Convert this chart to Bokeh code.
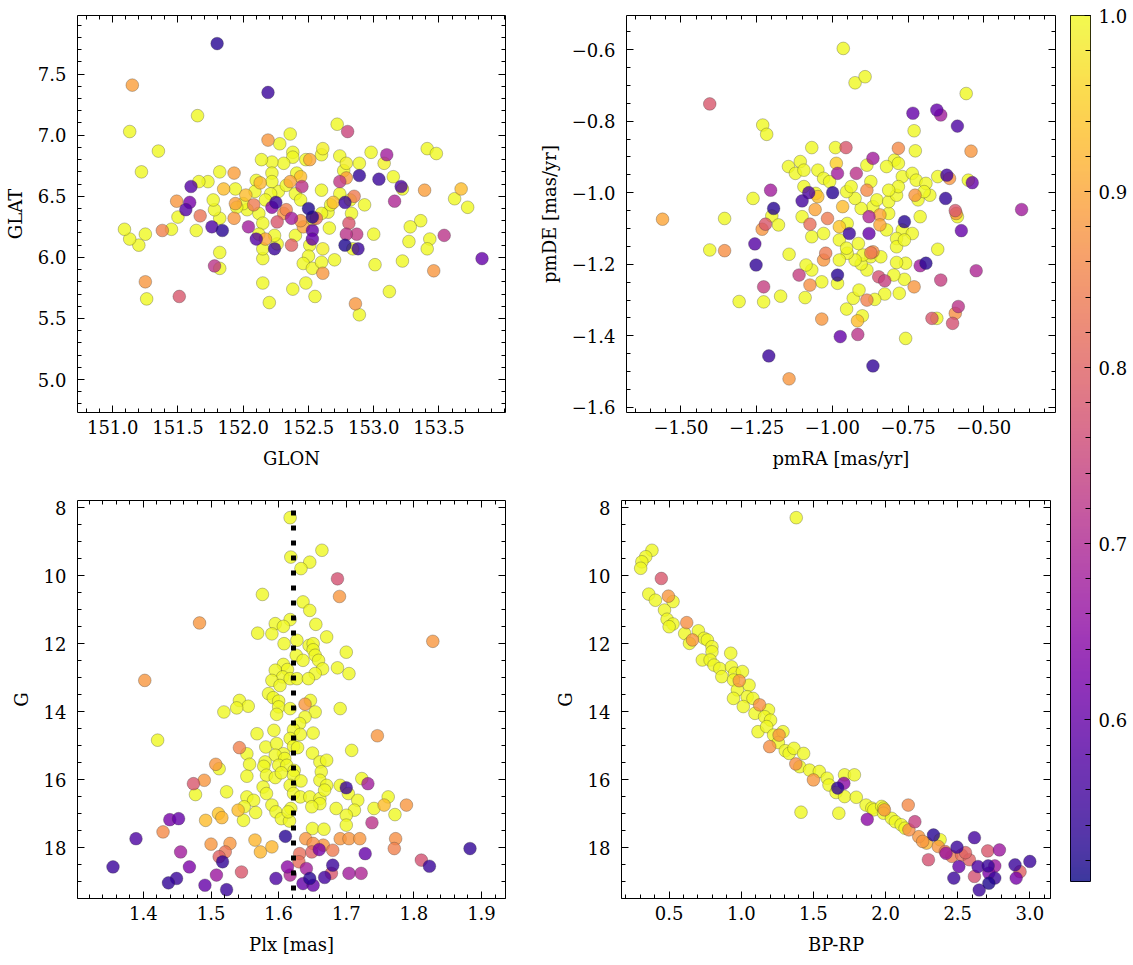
import numpy as np
from bokeh.plotting import figure
from bokeh.models import ColumnDataSource, Range1d, FixedTicker, LinearAxis, LinearColorMapper
from bokeh.layouts import row, column
from bokeh.palettes import Plasma256
from bokeh.embed import file_html
from bokeh.resources import INLINE

# ---------------- data: panel 1 (GLON / GLAT) ----------------
glon = [151.80, 151.15, 152.19, 151.65, 151.13, 152.72, 152.80, 151.35, 151.22, 152.19,
        152.36, 152.28, 152.38, 152.61, 152.60, 152.98, 152.74, 153.10, 153.08, 153.41,
        153.48, 153.15, 152.89, 152.79, 152.77, 152.89, 153.04, 153.21, 153.22, 153.39,
        153.67, 153.62, 153.72, 153.16, 153.36, 153.28, 153.27, 153.43, 153.41, 153.54,
        153.83, 153.46, 153.22, 153.12, 153.00, 153.01, 152.93, 152.85, 152.82, 152.78,
        152.74, 152.74, 152.79, 152.69, 152.83, 152.81, 152.79, 152.87, 152.78, 152.88,
        152.84, 152.70, 152.66, 152.86, 152.89, 152.65, 152.67, 152.60, 152.60, 152.56,
        152.53, 152.50, 152.53, 152.53, 152.53, 152.51, 152.50, 152.46, 152.53, 152.61,
        152.60, 152.61, 152.48, 152.38, 152.55, 152.15, 152.20, 152.15, 152.15, 152.17,
        152.24, 152.26, 152.24, 152.37, 152.40, 152.37, 152.44, 152.46, 152.33, 152.31,
        152.26, 152.22, 152.25, 152.27, 152.33, 152.40, 152.44, 152.45, 152.36, 152.44,
        152.41, 152.51, 152.48, 152.38, 152.31, 152.22, 152.14, 152.22, 152.22, 152.21,
        152.17, 152.13, 152.10, 152.09, 152.08, 152.03, 152.12, 152.15, 152.12, 152.10,
        152.04, 152.02, 152.00, 151.94, 151.93, 151.94, 151.93, 151.95, 151.85, 151.82,
        151.82, 151.84, 151.76, 151.78, 151.77, 151.73, 151.66, 151.67, 151.64, 151.59,
        151.60, 151.56, 151.49, 151.50, 151.45, 151.38, 151.25, 151.20, 151.13, 151.09,
        151.25, 151.26, 151.51, 151.78, 151.82, 151.82]
glat = [7.75, 7.41, 7.35, 7.16, 7.03, 7.09, 7.03, 6.87, 6.70, 6.96,
        7.01, 6.93, 6.86, 6.89, 6.84, 6.86, 6.83, 6.84, 6.77, 6.89,
        6.85, 6.66, 6.77, 6.77, 6.71, 6.67, 6.64, 6.58, 6.56, 6.55,
        6.56, 6.48, 6.41, 6.46, 6.30, 6.25, 6.13, 6.15, 6.07, 6.18,
        5.99, 5.89, 5.97, 5.72, 6.19, 5.94, 6.43, 6.50, 6.47, 6.45,
        6.52, 6.62, 6.65, 6.45, 6.36, 6.28, 6.19, 6.19, 6.10, 6.07,
        6.07, 5.98, 6.24, 5.62, 5.53, 6.37, 6.43, 6.55, 6.36, 6.32,
        6.31, 6.40, 6.33, 6.22, 6.15, 6.10, 6.01, 5.95, 5.91, 5.87,
        5.96, 6.07, 5.79, 5.74, 5.68, 5.79, 5.63, 5.99, 6.07, 6.15,
        6.07, 6.11, 6.18, 6.10, 6.18, 6.32, 6.30, 6.25, 6.39, 6.36,
        6.29, 6.41, 6.45, 6.54, 6.59, 6.52, 6.47, 6.58, 6.62, 6.66,
        6.69, 6.80, 6.80, 6.82, 6.77, 6.78, 6.80, 6.69, 6.62, 6.52,
        6.47, 6.61, 6.63, 6.54, 6.43, 6.39, 6.36, 6.28, 6.19, 6.15,
        6.25, 6.51, 6.44, 6.56, 6.69, 6.44, 6.32, 6.41, 6.56, 6.70,
        6.32, 6.22, 6.25, 6.39, 6.47, 6.62, 6.62, 6.34, 6.22, 6.45,
        6.58, 6.39, 6.46, 6.33, 6.23, 6.22, 6.19, 6.10, 6.15, 6.23,
        5.80, 5.66, 5.68, 5.93, 5.91, 6.04]
prob1 = [0.53, 0.89, 0.55, 1.00, 1.00, 1.00, 0.75, 1.00, 1.00, 0.88,
         1.00, 1.00, 1.00, 0.99, 1.00, 1.00, 1.00, 0.68, 0.99, 1.00,
         1.00, 1.00, 1.00, 0.99, 1.00, 0.54, 0.55, 0.57, 1.00, 0.89,
         0.93, 1.00, 1.00, 0.70, 1.00, 1.00, 1.00, 1.00, 1.00, 0.72,
         0.60, 0.88, 1.00, 1.00, 1.00, 1.00, 1.00, 0.84, 1.00, 0.55,
         1.00, 0.73, 0.89, 0.93, 1.00, 0.78, 0.72, 0.73, 0.52, 0.55,
         1.00, 1.00, 1.00, 0.88, 1.00, 1.00, 1.00, 1.00, 1.00, 0.82,
         1.00, 0.52, 0.53, 0.60, 0.60, 1.00, 1.00, 1.00, 1.00, 0.88,
         1.00, 0.99, 1.00, 1.00, 1.00, 1.00, 1.00, 1.00, 1.00, 0.90,
         0.55, 1.00, 1.00, 0.80, 1.00, 0.68, 0.88, 0.90, 0.85, 0.88,
         0.78, 0.65, 0.55, 1.00, 1.00, 1.00, 1.00, 0.72, 0.90, 0.93,
         1.00, 0.90, 1.00, 1.00, 1.00, 1.00, 1.00, 1.00, 1.00, 1.00,
         1.00, 0.92, 1.00, 1.00, 0.84, 1.00, 1.00, 1.00, 1.00, 0.58,
         0.68, 0.93, 1.00, 1.00, 0.89, 0.89, 0.88, 1.00, 0.93, 1.00,
         1.00, 0.53, 0.57, 1.00, 1.00, 1.00, 1.00, 0.83, 1.00, 0.62,
         0.58, 0.58, 0.88, 1.00, 1.00, 0.85, 1.00, 1.00, 1.00, 1.00,
         0.88, 1.00, 0.78, 0.72, 1.00, 1.00]

# ---------------- data: panel 2 (pmRA / pmDE) ----------------
pmra = [-0.964, -0.925, -0.892, -0.558, -1.405, -1.230, -1.217, -0.734, -0.655, -0.642,
        -0.587, -0.730, -1.068, -0.990, -0.955, -0.782, -0.726, -0.542, -0.866, -0.795,
        -1.145, -1.106, -1.048, -1.122, -1.094, -0.987, -0.983, -0.921, -0.886, -0.821,
        -0.782, -0.769, -0.736, -0.723, -0.691, -0.652, -0.622, -0.613, -0.551, -0.538,
        -0.626, -0.678, -0.727, -0.375, -0.594, -0.587, -0.591, -0.574, -0.762, -0.769,
        -0.788, -0.652, -0.525, -0.691, -0.710, -0.642, -0.730, -0.758, -0.788, -0.762,
        -0.797, -0.827, -0.779, -0.584, -0.594, -0.655, -0.671, -0.603, -0.758, -0.916,
        -0.974, -0.917, -0.901, -0.866, -1.210, -1.143, -1.035, -0.953, -0.931, -0.912,
        -0.886, -0.860, -0.827, -0.847, -0.886, -0.905, -0.873, -0.840, -0.866, -0.899,
        -0.925, -0.951, -0.977, -0.983, -0.983, -1.035, -1.068, -1.087, -1.074, -1.110,
        -1.090, -1.171, -1.227, -1.308, -1.227, -1.252, -1.256, -1.143, -1.356, -1.405,
        -1.561, -1.356, -1.262, -1.204, -1.194, -1.200, -1.178, -1.232, -1.221, -1.100,
        -1.078, -0.999, -1.094, -1.100, -1.055, -1.048, -1.057, -1.074, -1.068, -1.016,
        -1.029, -0.966, -0.977, -0.951, -0.944, -0.977, -0.953, -0.914, -0.879, -0.879,
        -0.843, -0.843, -0.814, -0.821, -0.866, -0.905, -0.925, -0.886, -0.873, -0.853,
        -0.814, -0.788, -0.782, -0.814, -0.953, -0.938, -1.029, -1.009, -1.022, -1.029,
        -0.873, -0.788, -0.736, -0.762, -0.710, -0.717, -0.697]
pmde = [-0.597, -0.693, -0.676, -0.723, -0.752, -0.811, -0.837, -0.778, -0.769, -0.783,
        -0.814, -0.827, -0.874, -0.874, -0.874, -0.876, -0.883, -0.884, -0.904, -0.909,
        -0.927, -0.913, -0.937, -0.946, -0.937, -0.918, -0.946, -0.946, -0.923, -0.927,
        -0.918, -0.955, -0.946, -0.965, -0.974, -0.955, -0.951, -0.960, -0.965, -0.972,
        -1.016, -1.007, -1.007, -1.047, -1.050, -1.067, -1.058, -1.106, -1.081, -1.104,
        -1.128, -1.158, -1.218, -1.197, -1.204, -1.244, -1.263, -1.197, -1.195, -1.242,
        -1.230, -1.283, -1.281, -1.318, -1.337, -1.351, -1.351, -1.365, -1.407, -1.396,
        -1.402, -1.358, -1.344, -1.484, -1.456, -1.520, -1.353, -1.325, -1.295, -1.272,
        -1.300, -1.298, -1.246, -1.235, -1.216, -1.199, -1.179, -1.179, -1.165, -1.174,
        -1.188, -1.169, -1.188, -1.230, -1.253, -1.249, -1.216, -1.202, -1.258, -1.230,
        -1.293, -1.289, -1.305, -1.304, -1.263, -1.202, -1.143, -1.172, -1.162, -1.160,
        -1.074, -1.072, -1.016, -0.993, -1.044, -1.065, -1.090, -1.102, -1.088, -1.023,
        -1.000, -1.000, -0.983, -1.067, -1.002, -1.011, -1.047, -1.088, -1.123, -1.072,
        -1.114, -1.039, -1.095, -1.086, -1.114, -1.132, -1.155, -1.142, -1.114, -1.067,
        -1.062, -1.090, -1.058, -1.104, -1.039, -1.044, -1.016, -0.993, -0.969, -1.020,
        -1.025, -1.007, -0.983, -0.993, -0.997, -0.983, -0.960, -0.969, -1.169, -1.188,
        -1.168, -1.151, -1.114, -1.132, -1.067, -1.020, -0.997]
prob2 = [1.00, 1.00, 1.00, 1.00, 0.78, 1.00, 1.00, 0.60, 0.60, 0.68,
         0.57, 1.00, 1.00, 1.00, 0.78, 0.86, 1.00, 0.88, 0.68, 1.00,
         1.00, 1.00, 1.00, 1.00, 1.00, 0.95, 0.68, 0.72, 1.00, 1.00,
         1.00, 1.00, 1.00, 1.00, 1.00, 1.00, 0.56, 0.88, 1.00, 0.60,
         0.54, 1.00, 0.88, 0.68, 0.78, 1.00, 0.88, 0.60, 0.53, 1.00,
         1.00, 1.00, 0.70, 0.53, 0.68, 0.74, 0.88, 1.00, 1.00, 1.00,
         1.00, 1.00, 1.00, 0.72, 0.87, 1.00, 0.78, 0.77, 1.00, 0.72,
         0.60, 0.93, 1.00, 0.54, 0.55, 0.88, 0.88, 1.00, 1.00, 1.00,
         0.85, 1.00, 0.74, 0.77, 1.00, 1.00, 1.00, 1.00, 0.87, 1.00,
         1.00, 1.00, 1.00, 0.53, 1.00, 1.00, 1.00, 1.00, 0.87, 0.74,
         1.00, 1.00, 1.00, 1.00, 0.74, 0.54, 0.58, 1.00, 0.87, 1.00,
         0.90, 1.00, 1.00, 0.68, 0.53, 1.00, 1.00, 0.88, 0.78, 0.56,
         0.57, 0.53, 1.00, 1.00, 1.00, 0.93, 0.90, 0.82, 1.00, 0.84,
         1.00, 0.93, 0.94, 1.00, 0.55, 1.00, 1.00, 1.00, 0.60, 0.70,
         0.90, 0.90, 1.00, 1.00, 1.00, 1.00, 1.00, 0.86, 1.00, 1.00,
         1.00, 1.00, 1.00, 1.00, 1.00, 1.00, 1.00, 1.00, 0.84, 0.88,
         0.84, 1.00, 1.00, 1.00, 1.00, 1.00, 1.00]

# ---------------- data: panel 3 (Plx / G) ----------------
plx = [1.617, 1.618, 1.664, 1.646, 1.633, 1.687, 1.690, 1.576, 1.636, 1.646,
       1.483, 1.655, 1.617, 1.595, 1.607, 1.569, 1.590, 1.671, 1.828, 1.608,
       1.627, 1.645, 1.651, 1.651, 1.626, 1.654, 1.700, 1.636, 1.659, 1.665,
       1.654, 1.687, 1.704, 1.607, 1.613, 1.595, 1.606, 1.590, 1.602, 1.617,
       1.627, 1.402, 1.644, 1.585, 1.592, 1.600, 1.600, 1.617, 1.647, 1.639,
       1.654, 1.691, 1.542, 1.555, 1.538, 1.519, 1.597, 1.639, 1.631, 1.622,
       1.632, 1.651, 1.568, 1.593, 1.421, 1.746, 1.617, 1.622, 1.628, 1.542,
       1.553, 1.581, 1.597, 1.607, 1.595, 1.609, 1.650, 1.708, 1.557, 1.580,
       1.600, 1.612, 1.623, 1.661, 1.671, 1.507, 1.512, 1.578, 1.553, 1.582,
       1.595, 1.604, 1.622, 1.633, 1.663, 1.661, 1.723, 1.490, 1.474, 1.477,
       1.732, 1.700, 1.691, 1.671, 1.577, 1.582, 1.617, 1.622, 1.632, 1.646,
       1.661, 1.668, 1.523, 1.553, 1.563, 1.703, 1.717, 1.762, 1.789, 1.756,
       1.741, 1.772, 1.712, 1.700, 1.685, 1.661, 1.649, 1.618, 1.590, 1.596,
       1.604, 1.616, 1.614, 1.566, 1.540, 1.549, 1.511, 1.516, 1.492, 1.548,
       1.700, 1.650, 1.667, 1.738, 1.439, 1.452, 1.429, 1.389, 1.500, 1.528,
       1.521, 1.512, 1.455, 1.565, 1.573, 1.590, 1.610, 1.640, 1.651, 1.666,
       1.649, 1.660, 1.680, 1.631, 1.691, 1.704, 1.720, 1.773, 1.771, 1.728,
       1.883, 1.811, 1.823, 1.355, 1.468, 1.517, 1.508, 1.545, 1.491, 1.449,
       1.437, 1.523, 1.596, 1.613, 1.617, 1.641, 1.646, 1.636, 1.651, 1.668,
       1.680, 1.678, 1.704, 1.722, 1.630]
g3 = [8.29, 9.45, 9.25, 9.60, 9.79, 10.09, 10.61, 10.55, 10.77, 11.02,
      11.39, 11.43, 11.29, 11.41, 11.49, 11.69, 11.71, 11.80, 11.93, 12.00,
      11.90, 12.05, 12.00, 12.18, 12.34, 12.34, 12.25, 12.49, 12.49, 12.74,
      12.88, 12.71, 12.88, 12.61, 12.76, 12.78, 12.98, 13.08, 13.23, 13.03,
      13.03, 13.08, 13.03, 13.47, 13.59, 13.69, 13.86, 13.91, 13.67, 13.78,
      14.01, 13.91, 13.67, 13.84, 13.89, 14.01, 14.08, 14.16, 14.35, 14.53,
      14.67, 14.63, 14.65, 14.55, 14.84, 14.71, 14.79, 15.02, 15.06, 15.06,
      15.24, 15.04, 14.94, 15.24, 15.28, 15.38, 15.22, 15.14, 15.55, 15.48,
      15.58, 15.58, 15.73, 15.48, 15.43, 15.55, 15.68, 15.61, 15.90, 15.87,
      15.94, 15.80, 15.87, 16.04, 15.77, 16.02, 15.97, 16.02, 16.12, 16.44,
      16.12, 16.24, 16.17, 16.17, 16.22, 16.41, 16.17, 16.41, 16.51, 16.51,
      16.56, 16.31, 16.36, 16.51, 16.61, 16.41, 16.61, 16.51, 16.75, 16.75,
      16.85, 17.03, 16.90, 17.05, 16.85, 16.71, 16.80, 16.85, 16.75, 16.95,
      17.15, 17.22, 16.95, 16.97, 16.90, 16.80, 17.00, 17.12, 17.20, 17.20,
      17.34, 17.44, 17.46, 17.27, 17.18, 17.15, 17.54, 17.74, 17.90, 17.88,
      18.13, 18.27, 18.13, 17.78, 18.13, 17.98, 17.67, 17.74, 17.88, 17.93,
      18.13, 18.06, 18.08, 18.18, 17.74, 17.74, 17.74, 17.74, 18.03, 18.18,
      18.03, 18.37, 18.55, 18.57, 18.57, 18.42, 18.81, 18.72, 19.11, 18.91,
      19.04, 19.24, 18.91, 18.57, 18.81, 18.62, 18.91, 19.06, 19.11, 18.88,
      18.52, 18.76, 18.76, 18.76, 18.42]
prob3 = [1.00, 1.00, 1.00, 1.00, 1.00, 0.77, 0.88, 1.00, 1.00, 1.00,
         0.88, 1.00, 1.00, 1.00, 1.00, 1.00, 1.00, 1.00, 0.88, 1.00,
         1.00, 1.00, 1.00, 1.00, 1.00, 1.00, 1.00, 1.00, 1.00, 1.00,
         1.00, 1.00, 1.00, 1.00, 1.00, 1.00, 1.00, 1.00, 1.00, 1.00,
         1.00, 0.88, 1.00, 1.00, 1.00, 1.00, 1.00, 1.00, 1.00, 0.88,
         1.00, 1.00, 1.00, 1.00, 1.00, 1.00, 1.00, 1.00, 1.00, 1.00,
         1.00, 1.00, 1.00, 1.00, 1.00, 0.88, 1.00, 1.00, 1.00, 0.85,
         1.00, 1.00, 1.00, 1.00, 1.00, 1.00, 1.00, 1.00, 1.00, 1.00,
         1.00, 1.00, 1.00, 1.00, 1.00, 0.88, 1.00, 1.00, 1.00, 1.00,
         1.00, 1.00, 1.00, 1.00, 1.00, 1.00, 1.00, 0.88, 0.78, 1.00,
         0.68, 0.55, 1.00, 1.00, 1.00, 1.00, 1.00, 1.00, 1.00, 1.00,
         1.00, 1.00, 1.00, 1.00, 1.00, 1.00, 1.00, 1.00, 0.88, 0.93,
         1.00, 1.00, 1.00, 1.00, 1.00, 1.00, 1.00, 1.00, 1.00, 1.00,
         1.00, 1.00, 1.00, 1.00, 0.93, 1.00, 0.94, 0.92, 0.93, 1.00,
         1.00, 1.00, 1.00, 0.72, 0.62, 0.60, 0.86, 0.57, 0.88, 0.88,
         0.83, 0.80, 0.68, 0.92, 0.92, 0.92, 0.53, 0.88, 0.87, 0.88,
         0.80, 0.62, 0.84, 0.82, 0.88, 0.88, 0.88, 0.87, 0.85, 0.60,
         0.54, 0.77, 0.55, 0.55, 0.63, 0.54, 0.67, 0.78, 0.60, 0.55,
         0.54, 0.55, 0.57, 0.65, 0.70, 0.68, 0.53, 0.60, 0.60, 0.56,
         0.55, 0.78, 0.68, 0.70, 0.82]
plx_ref = 1.622
ref_g = [8.08, 19.6]

# ---------------- data: panel 4 (BP-RP / G) ----------------
bprp = [1.381, 0.381, 0.338, 0.311, 0.303, 0.446, 0.359, 0.405, 0.495, 0.527,
        0.468, 0.486, 0.527, 0.500, 0.622, 0.608, 0.703, 0.662, 0.641, 0.743,
        0.765, 0.797, 0.797, 0.730, 0.784, 0.811, 0.851, 0.865, 0.927, 0.932,
        0.954, 1.008, 0.986, 1.054, 0.946, 0.973, 0.946, 1.041, 1.081, 1.014,
        1.127, 1.189, 1.095, 1.162, 1.203, 1.116, 1.176, 1.224, 1.262, 1.289,
        1.197, 1.257, 1.305, 1.332, 1.365, 1.432, 1.378, 1.405, 1.473, 1.541,
        1.500, 1.595, 1.608, 1.668, 1.711, 1.716, 1.784, 1.657, 1.716, 1.797,
        1.865, 1.905, 1.919, 1.973, 1.986, 1.992, 1.986, 2.041, 2.068, 2.108,
        1.873, 1.676, 1.414, 2.157, 2.203, 2.162, 2.135, 2.230, 2.257, 2.284,
        2.332, 2.378, 2.365, 2.414, 2.297, 2.419, 2.495, 2.527, 2.581, 2.616,
        2.508, 2.473, 2.641, 2.708, 2.789, 2.711, 2.757, 2.757, 2.716, 2.649,
        2.716, 2.616, 2.897, 3.000, 2.932, 2.905, 2.554, 2.459]
g4 = [8.29, 9.25, 9.44, 9.59, 9.78, 10.08, 10.54, 10.72, 10.60, 10.76,
      11.01, 11.28, 11.42, 11.50, 11.38, 11.70, 11.62, 11.89, 11.99, 11.84,
      11.89, 12.09, 12.24, 12.48, 12.48, 12.63, 12.73, 12.97, 12.28, 12.68,
      12.87, 12.82, 13.09, 13.22, 13.07, 13.36, 13.61, 13.56, 13.61, 13.85,
      13.80, 13.95, 14.05, 14.15, 14.25, 14.59, 14.44, 14.69, 14.69, 14.59,
      15.03, 14.91, 15.15, 15.23, 15.08, 15.23, 15.54, 15.62, 15.72, 15.76,
      16.01, 15.96, 16.16, 16.25, 16.11, 15.86, 15.86, 16.38, 16.50, 16.52,
      16.75, 16.84, 16.89, 16.79, 16.84, 16.89, 16.99, 17.14, 17.24, 17.33,
      17.17, 16.99, 16.96, 16.75, 17.24, 17.48, 17.43, 17.68, 17.82, 17.87,
      17.63, 17.77, 17.97, 18.12, 18.36, 18.17, 17.99, 18.22, 18.36, 17.71,
      18.56, 18.90, 18.56, 18.10, 18.07, 18.54, 18.54, 18.90, 19.05, 19.25,
      18.75, 18.85, 18.51, 18.41, 18.71, 18.90, 18.15, 18.26]
prob4 = [1.00, 1.00, 1.00, 1.00, 1.00, 0.78, 1.00, 1.00, 0.88, 1.00,
         1.00, 1.00, 1.00, 1.00, 0.87, 1.00, 1.00, 0.88, 1.00, 1.00,
         1.00, 1.00, 1.00, 1.00, 1.00, 1.00, 1.00, 1.00, 1.00, 1.00,
         1.00, 1.00, 0.88, 1.00, 1.00, 1.00, 1.00, 1.00, 1.00, 1.00,
         0.87, 1.00, 1.00, 1.00, 1.00, 1.00, 1.00, 1.00, 0.88, 1.00,
         0.87, 1.00, 1.00, 1.00, 1.00, 1.00, 0.87, 1.00, 1.00, 1.00,
         0.88, 1.00, 1.00, 0.54, 0.65, 1.00, 1.00, 1.00, 1.00, 1.00,
         1.00, 1.00, 1.00, 1.00, 1.00, 0.88, 1.00, 1.00, 1.00, 1.00,
         0.65, 1.00, 1.00, 0.86, 0.74, 0.87, 1.00, 0.88, 0.88, 0.92,
         0.53, 1.00, 0.88, 0.83, 0.77, 0.67, 0.55, 0.82, 0.80, 0.56,
         0.60, 0.55, 0.57, 0.78, 0.67, 0.55, 0.67, 0.55, 0.52, 0.55,
         0.63, 0.77, 0.55, 0.55, 0.80, 0.62, 0.80, 0.84]

# ---------------- axes: ranges and ticks ----------------
glon_range = (150.73, 154.01)
glat_range = (4.73, 7.98)
pmra_range = (-1.68, -0.263)
pmde_range = (-1.614, -0.505)
plx_range = (1.3025, 1.9355)
g_range = (19.5, 7.785)
bprp_range = (0.17, 3.143)
prob_range = (0.508, 1.0)

glon_ticks = [151.0, 151.5, 152.0, 152.5, 153.0, 153.5]
glon_labels = ["151.0", "151.5", "152.0", "152.5", "153.0", "153.5"]
glat_ticks = [5.0, 5.5, 6.0, 6.5, 7.0, 7.5]
glat_labels = ["5.0", "5.5", "6.0", "6.5", "7.0", "7.5"]
pmra_ticks = [-1.5, -1.25, -1.0, -0.75, -0.5]
pmra_labels = ["\u22121.50", "\u22121.25", "\u22121.00", "\u22120.75", "\u22120.50"]
pmde_ticks = [-1.6, -1.4, -1.2, -1.0, -0.8, -0.6]
pmde_labels = ["\u22121.6", "\u22121.4", "\u22121.2", "\u22121.0", "\u22120.8", "\u22120.6"]
plx_ticks = [1.4, 1.5, 1.6, 1.7, 1.8, 1.9]
plx_labels = ["1.4", "1.5", "1.6", "1.7", "1.8", "1.9"]
g_ticks = [8, 10, 12, 14, 16, 18]
g_labels = ["8", "10", "12", "14", "16", "18"]
bprp_ticks = [0.5, 1.0, 1.5, 2.0, 2.5, 3.0]
bprp_labels = ["0.5", "1.0", "1.5", "2.0", "2.5", "3.0"]
prob_ticks = [0.6, 0.7, 0.8, 0.9, 1.0]
prob_labels = ["0.6", "0.7", "0.8", "0.9", "1.0"]

FONT = "DejaVu Serif"
FS = "18px"
mapper = LinearColorMapper(palette=Plasma256, low=prob_range[0], high=prob_range[1])


def minor_ticks(rng, step):
    lo, hi = min(rng), max(rng)
    n0 = int(np.ceil(lo / step - 1e-9))
    n1 = int(np.floor(hi / step + 1e-9))
    return [round(k * step, 6) for k in range(n0, n1 + 1)]


def style_axis(ax, ticks, labels, minors, show, label_standoff, tin=7, tmin=4):
    ax.ticker = FixedTicker(ticks=ticks, minor_ticks=minors)
    ax.axis_line_color = None
    ax.major_tick_in = tin
    ax.major_tick_out = 0
    ax.minor_tick_in = tmin
    ax.minor_tick_out = 0
    ax.major_tick_line_color = "black"
    ax.minor_tick_line_color = "black"
    ax.major_tick_line_width = 1
    ax.minor_tick_line_width = 1
    ax.major_label_text_font = FONT
    ax.axis_label_text_font = FONT
    ax.axis_label_text_font_style = "normal"
    ax.axis_label_text_font_size = FS
    ax.axis_label_text_color = "black"
    ax.major_label_text_color = "black"
    if show:
        ax.major_label_overrides = {t: l for t, l in zip(ticks, labels)}
        ax.major_label_text_font_size = FS
        ax.major_label_standoff = label_standoff
    else:
        ax.major_label_overrides = {t: "" for t in ticks}
        ax.major_label_text_font_size = "0px"
        ax.major_label_standoff = 0


def panel(x, y, c, xr, yr, xt, xl, xstep, yt, yl, ystep, xlabel, ylabel,
          fw, fh, bl, br, bt, bb):
    p = figure(frame_width=fw, frame_height=fh, x_range=Range1d(*xr), y_range=Range1d(*yr),
               output_backend="svg", toolbar_location=None,
               min_border_left=bl, min_border_right=br, min_border_top=bt, min_border_bottom=bb)
    p.grid.visible = False
    p.outline_line_color = "black"
    p.outline_line_width = 1
    p.background_fill_color = "white"
    p.border_fill_color = "white"
    xm = minor_ticks(xr, xstep)
    ym = minor_ticks(yr, ystep)
    style_axis(p.xaxis[0], xt, xl, xm, True, 7)
    style_axis(p.yaxis[0], yt, yl, ym, True, 11)
    p.xaxis[0].axis_label = xlabel
    p.xaxis[0].axis_label_standoff = 11
    p.yaxis[0].axis_label = ylabel
    p.yaxis[0].axis_label_standoff = 9
    top = LinearAxis()
    style_axis(top, xt, xl, xm, False, 0)
    p.add_layout(top, "above")
    right = LinearAxis()
    style_axis(right, yt, yl, ym, False, 0)
    p.add_layout(right, "right")
    order = np.argsort(-np.asarray(c), kind="stable")
    src = ColumnDataSource(dict(x=np.asarray(x)[order], y=np.asarray(y)[order],
                                c=np.asarray(c)[order]))
    p.scatter("x", "y", source=src, size=12.7,
              fill_color={"field": "c", "transform": mapper}, fill_alpha=0.8,
              line_color="#333333", line_alpha=0.5, line_width=0.6)
    return p


p1 = panel(glon, glat, prob1, glon_range, glat_range, glon_ticks, glon_labels, 0.1,
           glat_ticks, glat_labels, 0.1, "GLON", "GLAT", 428, 397, 77, 30, 15, 70)
p2 = panel(pmra, pmde, prob2, pmra_range, pmde_range, pmra_ticks, pmra_labels, 0.05,
           pmde_ticks, pmde_labels, 0.05, "pmRA [mas/yr]", "pmDE [mas/yr]", 429, 397, 86, 5, 15, 70)
p3 = panel(plx, g3, prob3, plx_range, g_range, plx_ticks, plx_labels, 0.02,
           g_ticks, g_labels, 0.5, "Plx [mas]", "G", 428, 398, 77, 30, 18, 67)
p3.line(x=[plx_ref, plx_ref], y=ref_g, line_color="black", line_width=5,
        line_dash="5 10", line_cap="butt")
p4 = panel(bprp, g4, prob4, bprp_range, g_range, bprp_ticks, bprp_labels, 0.1,
           g_ticks, g_labels, 0.5, "BP-RP", "G", 429, 398, 86, 5, 18, 67)

# ---------------- colour bar ----------------
pc = figure(frame_width=20, frame_height=866, x_range=Range1d(0, 1), y_range=Range1d(*prob_range),
            x_axis_location=None, y_axis_location="right", output_backend="svg",
            toolbar_location=None, min_border_left=10, min_border_right=48,
            min_border_top=15, min_border_bottom=84)
pc.grid.visible = False
pc.outline_line_color = "black"
pc.outline_line_width = 1
pc.border_fill_color = "white"
grad = np.linspace(prob_range[0], prob_range[1], 256).reshape(256, 1)
pc.image(image=[grad], x=0, y=prob_range[0], dw=1, dh=prob_range[1] - prob_range[0],
         color_mapper=mapper, global_alpha=0.8)
style_axis(pc.yaxis[0], prob_ticks, prob_labels, minor_ticks(prob_range, 0.02), True, 8, tin=6, tmin=5)

layout = row(column(row(p1, p2), row(p3, p4)), pc)

open("out.html", "w").write(file_html(layout, INLINE))
